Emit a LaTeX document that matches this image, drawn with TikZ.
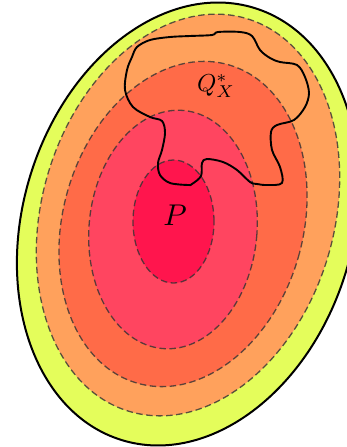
\documentclass[tikz,border=0pt]{standalone}
\usepackage{tikz}
\definecolor{cyellow}{RGB}{228,253,91}
\definecolor{corange}{RGB}{255,161,92}
\definecolor{cred}{RGB}{255,107,72}
\definecolor{cpink}{RGB}{255,69,96}
\definecolor{ccore}{RGB}{255,21,77}
\tikzset{
  level/.style={draw=black!80, draw opacity=0.8, line width=1.3pt, dash pattern=on 6.5pt off 3.5pt},
  outerline/.style={draw=black, line width=2pt},
  blob/.style={draw=black, line width=1.9pt, line join=round},
  lbl/.style={inner sep=0pt, text=black}
}
\begin{document}
\begin{tikzpicture}[x=1pt,y=-1pt]
\useasboundingbox (0,0) rectangle (347,447);
\clip (0,0) rectangle (347,447);
\fill[white] (0,0) rectangle (347,447);
% outer region
\path[outerline, fill=cyellow, rotate around={-17:(188,224)}] (188,224) ellipse [x radius=165pt, y radius=226pt];
% level sets
\path[level, fill=corange, rotate around={-16.6:(188,215)}] (188,215) ellipse [x radius=146pt, y radius=205pt];
\path[level, fill=cred, rotate around={-16:(183,224)}] (183,224) ellipse [x radius=120pt, y radius=165.6pt];
\path[level, fill=cpink, rotate around={-5:(173,229.5)}] (173,229.5) ellipse [x radius=84pt, y radius=119.5pt];
\path[level, fill=ccore] (173.5,221.5) ellipse [x radius=40.5pt, y radius=61.5pt];
% Q_X^* region
\draw[blob] plot[smooth cycle, tension=0.55] coordinates {
 (137,47) (150,40) (170,37) (190,36) (212,35) (218,32) (240,32) (252,36)
 (260,50) (270,58) (280,62) (297,65) (305,77) (309,93) (305,107) (294,120)
 (277,125) (271,132) (272,150) (280,167) (282,183) (267,185) (257,184)
 (250,182) (237,170) (223,162) (207,159) (202,163) (201,176) (192,184)
 (188,185) (170,183) (160,175) (158,163) (162,150) (165,133) (162,121)
 (150,117) (133,107) (125,90) (127,70) (132,57)};
\node[lbl, scale=2.45] (q) at (216,86) {$Q_X^*$};
\node[lbl, scale=3] (p) at (175,215.5) {$P$};
\end{tikzpicture}
\end{document}
